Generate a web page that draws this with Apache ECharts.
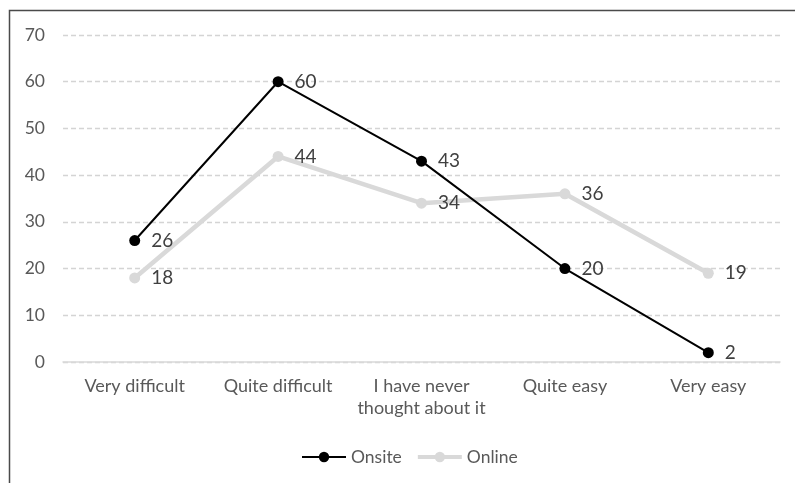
<!DOCTYPE html>
<html>
<head>
<meta charset="utf-8">
<script src="https://cdn.jsdelivr.net/npm/echarts@6/dist/echarts.min.js"></script>
<style>
  html, body { margin: 0; padding: 0; background: #fff; }
  #chart { width: 795px; height: 483px; }
</style>
</head>
<body>
<div id="chart"></div>
<script>
const categories = ['Very difficult', 'Quite difficult', 'I have never\nthought about it', 'Quite easy', 'Very easy']
const onsite = [26, 60, 43, 20, 2]
const online = [18, 44, 34, 36, 19]
const yTicks = { min: 0, max: 70, interval: 10 }

const font = 'Lato, "Open Sans", sans-serif'
const myChart = echarts.init(document.getElementById('chart'))

myChart.setOption({
  animation: false,
  textStyle: { fontFamily: font },
  graphic: [{
    type: 'rect',
    shape: { x: 9.5, y: 10.5, width: 900, height: 600 },
    style: { fill: 'none', stroke: '#4a4a4a', lineWidth: 1.5 },
    silent: true
  }],
  grid: { left: 63, right: 15, top: 35, bottom: 121 },
  legend: {
    bottom: 12,
    left: 296,
    itemWidth: 44,
    itemHeight: 13,
    itemGap: 14,
    textStyle: { color: '#595959', fontSize: 17.5, fontFamily: font },
    data: [
      { name: 'Onsite', lineStyle: { width: 2 } },
      { name: 'Online', lineStyle: { width: 4 } }
    ]
  },
  xAxis: {
    type: 'category',
    data: categories,
    boundaryGap: true,
    axisLine: { lineStyle: { color: '#d9d9d9', width: 1.5 } },
    axisTick: { show: false },
    axisLabel: { color: '#595959', fontSize: 18, margin: 13, lineHeight: 22, interval: 0, fontFamily: font }
  },
  yAxis: {
    type: 'value',
    min: yTicks.min,
    max: yTicks.max,
    interval: yTicks.interval,
    axisLine: { show: false },
    axisTick: { show: false },
    axisLabel: { color: '#595959', fontSize: 17.5, margin: 18, fontFamily: font },
    splitLine: { lineStyle: { color: '#d4d4d4', type: [5, 3], width: 1.3 } }
  },
  series: [
    {
      name: 'Online',
      type: 'line',
      data: online,
      z: 2,
      symbol: 'circle',
      symbolSize: 11,
      itemStyle: { color: '#d9d9d9' },
      lineStyle: { color: '#d9d9d9', width: 4.5 },
      label: { show: true, position: 'right', distance: 11, color: '#404040', fontSize: 19, fontFamily: font }
    },
    {
      name: 'Onsite',
      type: 'line',
      data: onsite,
      z: 3,
      symbol: 'circle',
      symbolSize: 11,
      itemStyle: { color: '#000000' },
      lineStyle: { color: '#000000', width: 2 },
      label: { show: true, position: 'right', distance: 11, color: '#404040', fontSize: 19, fontFamily: font }
    }
  ]
})
</script>
</body>
</html>
